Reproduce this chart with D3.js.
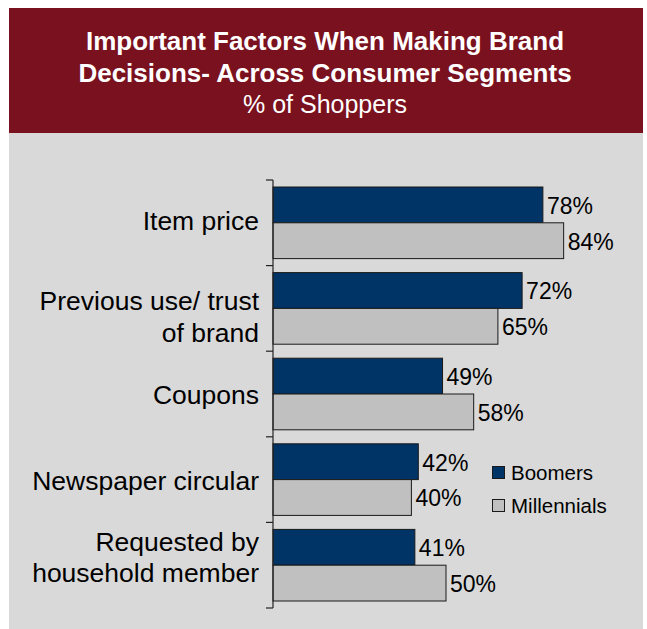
<!DOCTYPE html>
<html>
<head>
<meta charset="utf-8">
<script src="https://cdn.jsdelivr.net/npm/d3@7"></script>
<style>
  html, body { margin: 0; padding: 0; background: #ffffff; }
  svg { display: block; font-family: "Liberation Sans", Arial, sans-serif; }
</style>
</head>
<body>
<svg id="chart" width="647" height="629"></svg>
<script>
// ---- data ----
const categories = [
  ["Item price"],
  ["Previous use/ trust", "of brand"],
  ["Coupons"],
  ["Newspaper circular"],
  ["Requested by", "household member"]
];
const seriesNames = ["Boomers", "Millennials"];
const boomers = [78, 72, 49, 42, 41];
const millennials = [84, 65, 58, 40, 50];
const titleLines = ["Important Factors When Making Brand", "Decisions- Across Consumer Segments"];
const subtitle = "% of Shoppers";

// ---- layout ----
const W = 647, H = 629;
const svg = d3.select("#chart");
const colors = ["#003366", "#C0C0C0"];
const labelShift = [-2, 8, 0, 1, -8];

// panel
svg.append("rect").attr("x", 9).attr("y", 8).attr("width", 634).attr("height", H - 8).attr("fill", "#D9D9D9");
svg.append("rect").attr("x", 9).attr("y", 8).attr("width", 634).attr("height", 125).attr("fill", "#7A111E");

svg.append("text").attr("x", 325).attr("y", 50).attr("text-anchor", "middle")
  .attr("fill", "#fff").attr("font-weight", "bold").attr("font-size", 26).text(titleLines[0]);
svg.append("text").attr("x", 325).attr("y", 82).attr("text-anchor", "middle")
  .attr("fill", "#fff").attr("font-weight", "bold").attr("font-size", 26).text(titleLines[1]);
svg.append("text").attr("x", 325).attr("y", 113).attr("text-anchor", "middle")
  .attr("fill", "#fff").attr("font-size", 25).text(subtitle);

// scales
const x0 = 273;
const x = d3.scaleLinear().domain([0, 100]).range([x0, x0 + 346]);
const idx = d3.range(categories.length);
const y = d3.scaleBand().domain(idx).range([180, 608]).paddingInner(0).paddingOuter(0);
const step = y.step();
const ys = d3.scaleBand().domain(seriesNames).range([7, step - 7]).padding(0);

const data = idx.map(i => ({ i, vals: [boomers[i], millennials[i]] }));

const g = svg.append("g");
const groups = g.selectAll("g.cat").data(data).join("g")
  .attr("transform", d => `translate(0,${y(d.i)})`);

groups.selectAll("rect").data(d => d.vals.map((v, k) => ({ v, k })))
  .join("rect")
  .attr("x", x(0))
  .attr("y", d => ys(seriesNames[d.k]))
  .attr("width", d => x(d.v) - x(0))
  .attr("height", ys.bandwidth())
  .attr("fill", d => colors[d.k])
  .attr("stroke", "#1a1a1a")
  .attr("stroke-width", 1);

groups.selectAll("text.val").data(d => d.vals.map((v, k) => ({ v, k })))
  .join("text")
  .attr("class", "val")
  .attr("x", d => x(d.v) + 4)
  .attr("y", d => ys(seriesNames[d.k]) + ys.bandwidth() / 2 + 9)
  .attr("font-size", 23)
  .attr("fill", "#000")
  .text(d => d.v + "%");

// axis line with ticks at band boundaries
const tickYs = idx.map(i => y(i)).concat([y.range()[1]]);
svg.append("line").attr("x1", x0).attr("x2", x0).attr("y1", 180).attr("y2", 608)
  .attr("stroke", "#222").attr("stroke-width", 1.2);
svg.selectAll("line.tick").data(tickYs).join("line").attr("class", "tick")
  .attr("x1", x0 - 7).attr("x2", x0).attr("y1", d => d).attr("y2", d => d)
  .attr("stroke", "#222").attr("stroke-width", 1.2);

// category labels
const lineH = 31.5;
svg.selectAll("text.cat").data(categories).join("text")
  .attr("class", "cat")
  .attr("text-anchor", "end")
  .attr("font-size", 26.5)
  .attr("fill", "#000")
  .each(function(lines, i) {
    const cy = y(i) + step / 2 + labelShift[i];
    const t = d3.select(this);
    lines.forEach((ln, j) => {
      t.append("tspan").attr("x", 259)
        .attr("y", cy + (j - (lines.length - 1) / 2) * lineH + 9.5)
        .text(ln);
    });
  });

// legend
const leg = svg.append("g");
seriesNames.forEach((s, k) => {
  leg.append("rect").attr("x", 492.5).attr("y", 466.5 + k * 33).attr("width", 12).attr("height", 12)
    .attr("fill", colors[k]).attr("stroke", "#1a1a1a").attr("stroke-width", 1);
  leg.append("text").attr("x", 511).attr("y", 480 + k * 33).attr("font-size", 20.5)
    .attr("fill", "#000").text(s);
});
</script>
</body>
</html>
